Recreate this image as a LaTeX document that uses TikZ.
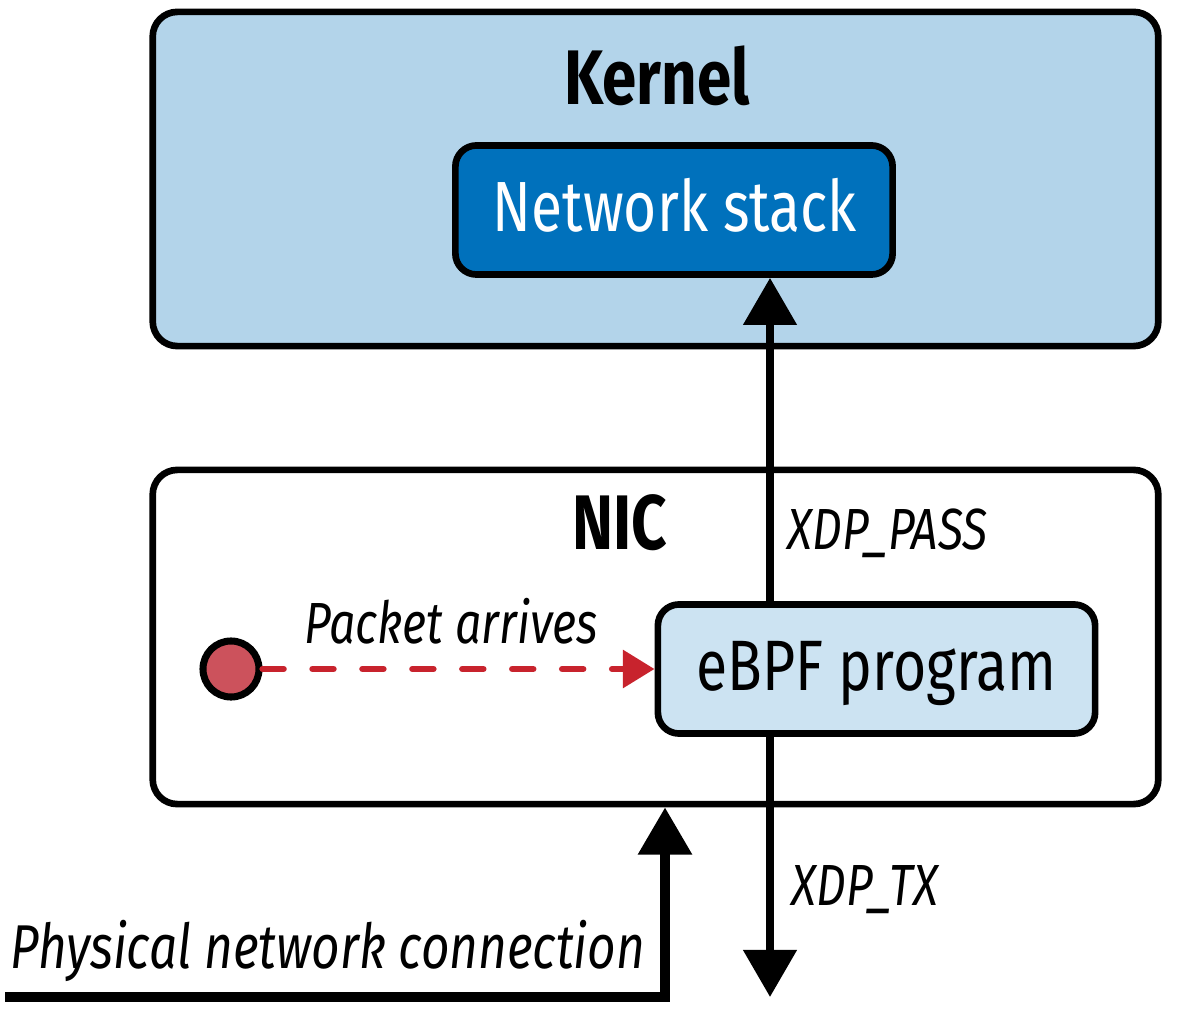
\documentclass[tikz,border=0pt]{standalone}
\usepackage{fontspec}
\setmainfont{Fira Sans}[FakeStretch=0.8]
\usetikzlibrary{positioning, arrows.meta}

\definecolor{kernelblue}{RGB}{179,212,234}
\definecolor{stackblue}{RGB}{0,113,188}
\definecolor{progblue}{RGB}{204,227,242}
\definecolor{packetred}{RGB}{204,82,92}
\definecolor{flowred}{RGB}{200,35,45}

\begin{document}
\begin{tikzpicture}[
    x=0.01cm, y=-0.01cm,
    panel/.style={draw, line width=1.9pt, rounded corners=7pt, minimum width=10.05cm, minimum height=3.34cm},
    prog/.style={draw, line width=1.9pt, rounded corners=6pt, minimum width=4.37cm, minimum height=1.29cm},
    boxtitle/.style={font=\fontsize{22}{26}\selectfont\bfseries, inner sep=0pt, anchor=base},
    progtext/.style={inner sep=0pt, anchor=base},
    flowtext/.style={font=\fontsize{16.5}{19}\selectfont\itshape, inner sep=0pt},
    arrow/.style={line width=2.3pt, -{Triangle[length=13.4pt, width=14.8pt]}},
    packetflow/.style={line width=1.8pt, flowred, dash pattern=on 6pt off 8.2pt, line cap=round,
        -{Triangle[length=9pt, width=10.5pt]}}
]
\useasboundingbox (0,0) rectangle (1179,1025);

% Kernel and NIC panels
\node[panel, fill=kernelblue] (kernel) at (655.5,179) {};
\node[panel, fill=white] (nic) at (655.5,637) {};
\node[boxtitle] (kerneltitle) at (657,105) {Kernel};
\node[boxtitle] (nictitle) at (620,550) {NIC};

% Programs inside the panels
\node[prog, fill=stackblue] (netstack) at (674,210) {};
\node[progtext, font=\fontsize{20.2}{23}\selectfont, text=white] (netstacktext) at (675,232) {Network stack};
\node[prog, fill=progblue] (ebpf) at (876.5,669) {};
\node[progtext, font=\fontsize{20.3}{23}\selectfont] (ebpftext) at (876.5,690) {eBPF program};

% Packet coming in
\node[circle, draw, line width=2pt, fill=packetred, minimum size=0.56cm, inner sep=0pt] (packet) at (231,669) {};
\draw[packetflow] (packet.east) -- (ebpf.west);
\node[flowtext, anchor=base] (arrives) at (451,643) {Packet arrives};

% Verdicts
\coordinate (pass) at (770,0);
\coordinate (txend) at (770,997);
\draw[arrow] (ebpf.north -| pass) -- (netstack.south -| pass);
\draw[arrow] (ebpf.south -| pass) -- (txend);
\node[flowtext, anchor=base west] (passtext) at (787,550) {XDP\_PASS};
\node[flowtext, anchor=base west] (txtext) at (791,905) {XDP\_TX};

% Physical wire into the NIC
\coordinate (wire) at (5,997);
\coordinate (wirein) at (665,997);
\draw[arrow, line width=2.6pt] (wire) -| (nic.south -| wirein);
\node[flowtext, font=\fontsize{17.6}{21}\selectfont\itshape, anchor=base west] (wiretext) at (10,968) {Physical network connection};

\end{tikzpicture}
\end{document}
